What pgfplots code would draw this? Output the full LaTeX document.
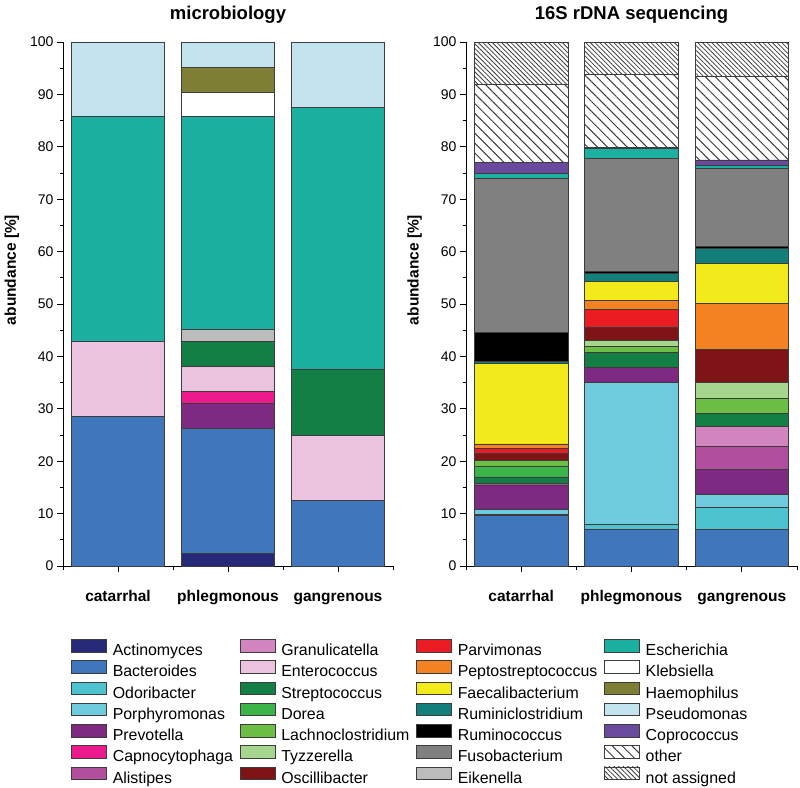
\documentclass[border=0pt]{standalone}
\usepackage{pgfplots}
\pgfplotsset{compat=1.18}
\usepackage{pgfplotstable}
\usetikzlibrary{patterns.meta}
\usepackage{fontspec}
\setmainfont{Liberation Sans}

\definecolor{cAct}{RGB}{38,40,120}
\definecolor{cBac}{RGB}{63,118,188}
\definecolor{cOdo}{RGB}{76,195,206}
\definecolor{cPor}{RGB}{109,203,221}
\definecolor{cPre}{RGB}{126,42,131}
\definecolor{cCap}{RGB}{236,26,140}
\definecolor{cAli}{RGB}{178,78,158}
\definecolor{cGra}{RGB}{211,133,192}
\definecolor{cEnt}{RGB}{236,195,222}
\definecolor{cStr}{RGB}{19,127,69}
\definecolor{cDor}{RGB}{59,180,74}
\definecolor{cLac}{RGB}{109,190,69}
\definecolor{cTyz}{RGB}{166,214,142}
\definecolor{cOsc}{RGB}{127,20,22}
\definecolor{cPar}{RGB}{236,28,36}
\definecolor{cPep}{RGB}{245,130,32}
\definecolor{cFae}{RGB}{242,234,26}
\definecolor{cRcl}{RGB}{19,127,122}
\definecolor{cRco}{RGB}{0,0,0}
\definecolor{cFus}{RGB}{128,128,128}
\definecolor{cEik}{RGB}{188,188,188}
\definecolor{cEsc}{RGB}{27,176,160}
\definecolor{cKle}{RGB}{255,255,255}
\definecolor{cHae}{RGB}{126,127,52}
\definecolor{cPse}{RGB}{195,228,239}
\definecolor{cCop}{RGB}{106,74,158}
\definecolor{edgec}{RGB}{60,60,60}
\definecolor{hatchc}{RGB}{60,60,60}

\pgfplotsset{
  sAct/.style={fill=cAct}, sBac/.style={fill=cBac}, sOdo/.style={fill=cOdo},
  sPor/.style={fill=cPor}, sPre/.style={fill=cPre}, sCap/.style={fill=cCap},
  sAli/.style={fill=cAli}, sGra/.style={fill=cGra}, sEnt/.style={fill=cEnt},
  sStr/.style={fill=cStr}, sDor/.style={fill=cDor}, sLac/.style={fill=cLac},
  sTyz/.style={fill=cTyz}, sOsc/.style={fill=cOsc}, sPar/.style={fill=cPar},
  sPep/.style={fill=cPep}, sFae/.style={fill=cFae}, sRcl/.style={fill=cRcl},
  sRco/.style={fill=cRco}, sFus/.style={fill=cFus}, sEik/.style={fill=cEik},
  sEsc/.style={fill=cEsc}, sKle/.style={fill=cKle}, sHae/.style={fill=cHae},
  sPse/.style={fill=cPse}, sCop/.style={fill=cCop},
  sOth/.style={pattern={Lines[angle=-45,distance=7pt,line width=1pt]},pattern color=hatchc},
  sNA/.style={pattern={Lines[angle=-45,distance=3.3pt,line width=0.8pt]},pattern color=hatchc},
  barax/.style={
    ybar stacked, bar width=93.5pt,
    width=330pt, height=524pt, scale only axis,
    xmin=-0.5, xmax=2.5, ymin=0, ymax=100,
    axis lines*=left,
    axis line style={line width=0.8pt, black},
    xtick={0,1,2}, xticklabels={catarrhal,phlegmonous,gangrenous},
    minor xtick={-0.5,0.5,1.5,2.5},
    ytick={0,10,...,100}, minor ytick={5,15,...,95},
    tick align=outside, major tick length=6pt, minor tick length=3.5pt,
    tick style={black, line width=0.8pt},
    /pgf/number format/assume math mode=true,
    yticklabel style={font=\fontsize{14}{16}\selectfont},
    xticklabel style={font=\bfseries\fontsize{15.5}{18}\selectfont, text height=11.5pt, text depth=3.5pt, yshift=-14pt},
    ylabel={abundance [\%]},
    ylabel style={font=\bfseries\fontsize{15.5}{18}\selectfont, at={(axis description cs:-0.155,0.565)}, anchor=center},
    title style={font=\bfseries\fontsize{18.5}{22}\selectfont, at={(axis description cs:0.5,1)}, anchor=base, yshift=17pt},
    every axis plot/.append style={draw=edgec, line width=0.8pt},
    clip=false,
  }
}

% microbiology: rows = catarrhal, phlegmonous, gangrenous
\pgfplotstableread{
x Act Bac Pre Cap Ent Str Eik Esc Kle Hae Pse
0 0    28.57 0    0    14.29 0     0    42.86 0    0    14.29
1 2.38 23.81 4.76 2.38 4.76  4.76  2.38 40.48 4.76 4.76 4.76
2 0    12.5  0    0    12.5  12.5  0    50.0  0    0    12.5
}\micro

% 16S rDNA sequencing
\pgfplotstableread{
x Bac Odo Por Pre Ali Gra Str Dor Lac Tyz Osc Par Pep Fae Rcl Rco Fus Esc Cop Oth NA
0 9.6 0.3 0.9 4.5 0.5 0   1.2 2.1 1.0 0   1.3 1.0 0.9 15.4 0.4 5.5 29.4 0.9 2.1 15.0 8.0
1 7.0 1.0 27.0 2.9 0  0   2.8 0   1.2 1.1 2.5 3.5 1.7 3.6 1.6 0.3 21.6 1.8 0.3 13.9 6.2
2 7.0 4.1 2.6 4.8 4.4 3.7 2.5 0   2.9 3.0 6.4 0   8.7 7.7 2.8 0.3 15.0 0.6 1.0 16.0 6.5
}\seq

\begin{document}
\begin{tikzpicture}
\useasboundingbox (0,0) rectangle (800pt,-787pt);

\begin{axis}[barax, at={(63pt,-566pt)}, anchor=south west, title={microbiology}]
\foreach \c in {Act,Bac,Pre,Cap,Ent,Str,Eik,Esc,Kle,Hae,Pse}{
  \edef\tmp{\noexpand\addplot[s\c] table[x=x,y=\c] {\noexpand\micro};}
  \tmp
}
\end{axis}

\begin{axis}[barax, width=331pt, at={(466pt,-566pt)}, anchor=south west, title={16S rDNA sequencing}]
\foreach \c in {Bac,Odo,Por,Pre,Ali,Gra,Str,Dor,Lac,Tyz,Osc,Par,Pep,Fae,Rcl,Rco,Fus,Esc,Cop,Oth,NA}{
  \edef\tmp{\noexpand\addplot[s\c] table[x=x,y=\c] {\noexpand\seq};}
  \tmp
}
\end{axis}

\begin{axis}[hide axis, scale only axis, width=10pt, height=10pt,
  xmin=0, xmax=1, ymin=0, ymax=1,
  at={(71pt,-639pt)}, anchor=north west,
  legend columns=4, legend cell align=left,
  legend image code/.code={\draw[#1, draw=edgec, line width=0.8pt] (0pt,-0.5pt) rectangle (35pt,12pt);},
  legend style={draw=none, fill=none, inner sep=0pt, outer sep=0pt,
    at={(rel axis cs:0,1)}, anchor=north west,
    font=\fontsize{15.9}{18}\selectfont,
    nodes={inner sep=0pt, text height=12pt, text depth=3.5pt},
    row sep=1.1pt,
    /tikz/every odd column/.append style={column sep=6pt},
    /tikz/every even column/.append style={column sep=6.5pt}},
]
\addlegendimage{sAct}\addlegendentry{Actinomyces}
\addlegendimage{sGra}\addlegendentry{Granulicatella}
\addlegendimage{sPar}\addlegendentry{Parvimonas}
\addlegendimage{sEsc}\addlegendentry{Escherichia}
\addlegendimage{sBac}\addlegendentry{Bacteroides}
\addlegendimage{sEnt}\addlegendentry{Enterococcus}
\addlegendimage{sPep}\addlegendentry{Peptostreptococcus}
\addlegendimage{sKle}\addlegendentry{Klebsiella}
\addlegendimage{sOdo}\addlegendentry{Odoribacter}
\addlegendimage{sStr}\addlegendentry{Streptococcus}
\addlegendimage{sFae}\addlegendentry{Faecalibacterium}
\addlegendimage{sHae}\addlegendentry{Haemophilus}
\addlegendimage{sPor}\addlegendentry{Porphyromonas}
\addlegendimage{sDor}\addlegendentry{Dorea}
\addlegendimage{sRcl}\addlegendentry{Ruminiclostridium}
\addlegendimage{sPse}\addlegendentry{Pseudomonas}
\addlegendimage{sPre}\addlegendentry{Prevotella}
\addlegendimage{sLac}\addlegendentry{Lachnoclostridium}
\addlegendimage{sRco}\addlegendentry{Ruminococcus}
\addlegendimage{sCop}\addlegendentry{Coprococcus}
\addlegendimage{sCap}\addlegendentry{Capnocytophaga}
\addlegendimage{sTyz}\addlegendentry{Tyzzerella}
\addlegendimage{sFus}\addlegendentry{Fusobacterium}
\addlegendimage{sOth}\addlegendentry{other}
\addlegendimage{sAli}\addlegendentry{Alistipes}
\addlegendimage{sOsc}\addlegendentry{Oscillibacter}
\addlegendimage{sEik}\addlegendentry{Eikenella}
\addlegendimage{sNA}\addlegendentry{not assigned}
\end{axis}
\end{tikzpicture}
\end{document}
